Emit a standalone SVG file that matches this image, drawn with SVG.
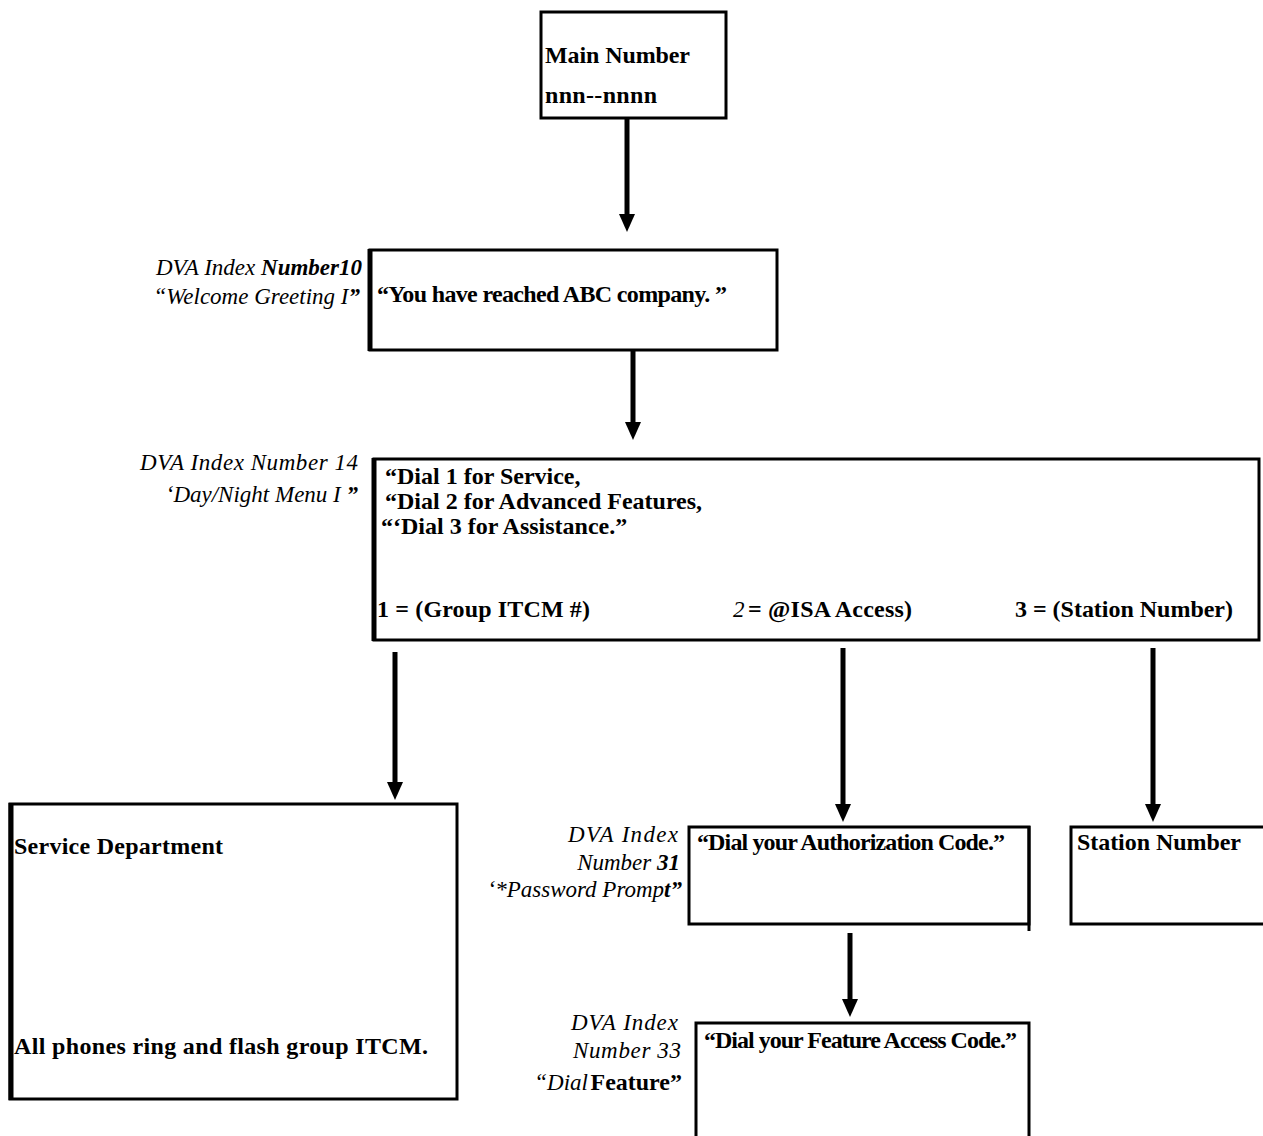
<svg xmlns="http://www.w3.org/2000/svg" width="1263" height="1136" viewBox="0 0 1263 1136">
  <style>
    .box { fill: #fff; stroke: #000; stroke-width: 3; }
    .edge { stroke: #000; stroke-width: 5; fill: none; }
    .t { font-family: "Liberation Serif", "Times New Roman", serif; font-weight: bold; font-size: 24px; fill: #000; }
    .lbl { font-family: "Liberation Serif", "Times New Roman", serif; font-style: italic; font-weight: normal; font-size: 23px; fill: #000; text-anchor: end; }
    .b { font-weight: bold; }
    .conn { stroke: #000; stroke-width: 5; fill: none; marker-end: url(#arrow); }
  </style>
  <defs>
    <marker id="arrow" viewBox="0 0 18 16" refX="0" refY="8" markerWidth="18" markerHeight="16" markerUnits="userSpaceOnUse" orient="auto">
      <path d="M0,0 L18,8 L0,16 Z" fill="#000"/>
    </marker>
  </defs>
  <rect width="1263" height="1136" fill="#fff"/>

  <g id="connectors">
    <line class="conn" x1="627" y1="118" x2="627" y2="214"/>
    <line class="conn" x1="633" y1="351" x2="633" y2="422"/>
    <line class="conn" x1="395" y1="652" x2="395" y2="782"/>
    <line class="conn" x1="843" y1="648" x2="843" y2="804"/>
    <line class="conn" x1="1153" y1="648" x2="1153" y2="804"/>
    <line class="conn" x1="850" y1="933" x2="850" y2="999"/>
  </g>

  <g id="main-number">
    <rect class="box" x="541" y="12" width="185" height="106"/>
    <text class="t" x="545" y="63" textLength="145" lengthAdjust="spacing">Main Number</text>
    <text class="t" x="545" y="103" textLength="112" lengthAdjust="spacing">nnn--nnnn</text>
  </g>

  <g id="welcome-greeting">
    <rect class="box" x="370" y="250" width="407" height="100"/>
    <line class="edge" x1="370" y1="249" x2="370" y2="351"/>
    <text class="t" x="377" y="302" textLength="350" lengthAdjust="spacing">“You have reached ABC company. ”</text>
    <text class="lbl" x="362" y="275">DVA Index <tspan class="b">Number10</tspan></text>
    <text class="lbl" x="360" y="304">“Welcome Greeting I<tspan class="b">”</tspan></text>
  </g>

  <g id="day-night-menu">
    <rect class="box" x="374" y="459" width="885" height="181"/>
    <line class="edge" x1="374" y1="458" x2="374" y2="641"/>
    <text class="t" x="385" y="484">“Dial 1 for Service,</text>
    <text class="t" x="385" y="509">“Dial 2 for Advanced Features,</text>
    <text class="t" x="381" y="534">“‘Dial 3 for Assistance.”</text>
    <text class="t" x="377" y="617" textLength="213" lengthAdjust="spacing">1 = (Group ITCM #)</text>
    <text class="lbl" x="733" y="617" style="text-anchor:start">2</text>
    <text class="t" x="748" y="617" textLength="164" lengthAdjust="spacing">= @ISA Access)</text>
    <text class="t" x="1015" y="617" textLength="218" lengthAdjust="spacing">3 = (Station Number)</text>
    <text class="lbl" x="358" y="470" textLength="218" lengthAdjust="spacing">DVA Index Number 14</text>
    <text class="lbl" x="358" y="502">‘Day/Night  Menu  I <tspan class="b">”</tspan></text>
  </g>

  <g id="service-department">
    <rect class="box" x="10" y="804" width="447" height="295"/>
    <line class="edge" x1="11" y1="803" x2="11" y2="1100"/>
    <text class="t" x="14" y="854" textLength="209" lengthAdjust="spacing">Service Department</text>
    <text class="t" x="14" y="1054" textLength="414" lengthAdjust="spacing">All phones ring and flash group ITCM.</text>
  </g>

  <g id="password-prompt">
    <rect class="box" x="689" y="827" width="340" height="97"/>
    <line class="edge" x1="1029" y1="826" x2="1029" y2="931" style="stroke-width:3"/>
    <text class="t" x="697" y="850" textLength="308" lengthAdjust="spacing">“Dial your Authorization Code.”</text>
    <text class="lbl" x="678" y="842" textLength="110" lengthAdjust="spacing">DVA Index</text>
    <text class="lbl" x="680" y="870">Number <tspan class="b">31</tspan></text>
    <text class="lbl" x="682" y="897">‘*Password Promp<tspan class="b">t”</tspan></text>
  </g>

  <g id="station-number">
    <rect class="box" x="1071" y="827" width="200" height="97"/>
    <text class="t" x="1077" y="850" textLength="164" lengthAdjust="spacing">Station Number</text>
  </g>

  <g id="dial-feature">
    <rect class="box" x="696" y="1023" width="333" height="125"/>
    <text class="t" x="704" y="1048" textLength="313" lengthAdjust="spacing">“Dial your Feature Access Code.”</text>
    <text class="lbl" x="678" y="1030" textLength="107" lengthAdjust="spacing">DVA Index</text>
    <text class="lbl" x="681" y="1058" textLength="108" lengthAdjust="spacing">Number 33</text>
    <text class="lbl" x="588" y="1090">“Dial</text>
    <text class="t" x="682" y="1090" style="text-anchor:end">Feature”</text>
  </g>
</svg>
